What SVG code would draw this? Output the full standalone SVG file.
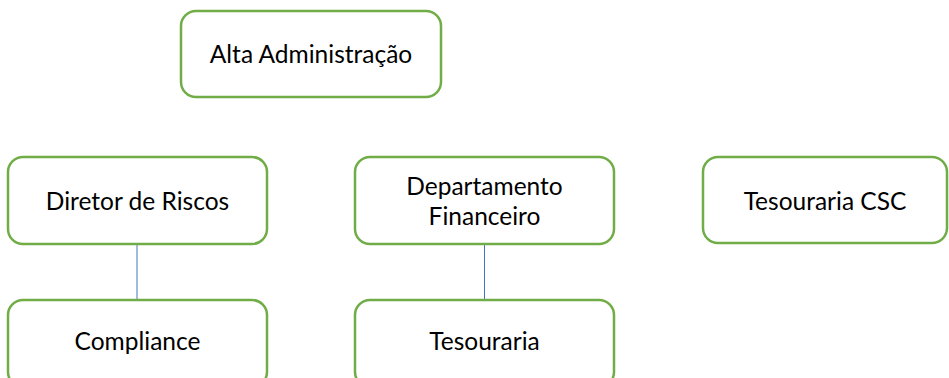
<svg xmlns="http://www.w3.org/2000/svg" width="949" height="378" viewBox="0 0 949 378">
<style>
.box{fill:#fff;stroke:#70AD47;stroke-width:2.5}
.lbl{font-family:Lato,"Open Sans","Liberation Sans",sans-serif;font-size:24.5px;fill:#000;text-anchor:middle}
.conn{stroke:#4472C4;stroke-width:1;fill:none}
</style>
<rect width="949" height="378" fill="#fff"/>
<g id="connectors">
<line class="conn" x1="137" y1="244" x2="137" y2="300"/>
<line class="conn" x1="484.5" y1="244" x2="484.5" y2="300"/>
</g>
<g id="alta"><rect class="box" x="181" y="11" width="260" height="86" rx="15"/><text class="lbl" x="311" y="63">Alta Administração</text></g>
<g id="diretor"><rect class="box" x="8" y="157" width="259" height="87" rx="15"/><text class="lbl" x="137.5" y="210">Diretor de Riscos</text></g>
<g id="depto"><rect class="box" x="355" y="157" width="259" height="87" rx="15"/><text class="lbl" x="484.5" y="195">Departamento</text><text class="lbl" x="484.5" y="225">Financeiro</text></g>
<g id="csc"><rect class="box" x="703" y="157" width="244" height="86" rx="15"/><text class="lbl" x="825" y="210">Tesouraria CSC</text></g>
<g id="compliance"><rect class="box" x="8" y="300" width="259" height="87" rx="15"/><text class="lbl" x="137.5" y="350">Compliance</text></g>
<g id="tesouraria"><rect class="box" x="355" y="300" width="259" height="87" rx="15"/><text class="lbl" x="484.5" y="350">Tesouraria</text></g>
</svg>
